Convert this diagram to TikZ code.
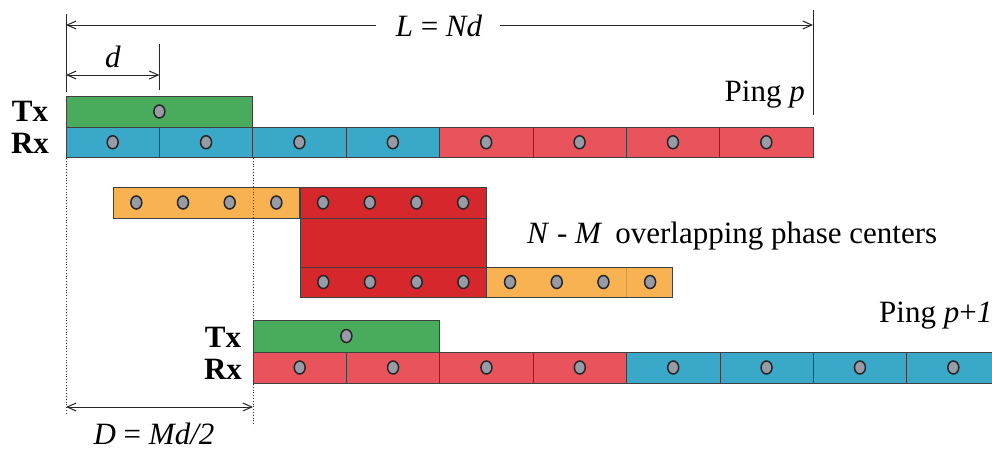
\documentclass[tikz,border=0pt]{standalone}
\usepackage{fontspec}
\setmainfont{Liberation Serif}
\usetikzlibrary{arrows.meta,shapes.geometric}
\definecolor{greenC}{RGB}{72,172,92}
\definecolor{blueC}{RGB}{58,169,201}
\definecolor{redC}{RGB}{233,84,92}
\definecolor{orangeC}{RGB}{249,178,82}
\definecolor{dredC}{RGB}{214,40,44}
\definecolor{dotC}{RGB}{150,155,165}
\tikzset{
  cellbox/.style={draw=black!75, line width=0.6pt, inner sep=0pt, outer sep=0pt, anchor=north west, minimum height=#1},
  cellbox/.default=30.5pt,
  pdot/.style={ellipse, draw=black!85, fill=dotC, line width=1.5pt, minimum width=11pt, minimum height=13pt, inner sep=0pt},
  dimline/.style={line width=1pt, black!85},
  dimarr/.style={dimline, {Straight Barb[length=9pt,width=8pt]}-{Straight Barb[length=9pt,width=8pt]}},
  vdot/.style={line width=0.8pt, black!80, dotted},
  lbl/.style={font=\fontsize{31}{34}\selectfont, inner sep=1pt},
  txrx/.style={font=\fontsize{31}{34}\selectfont\bfseries, inner sep=1pt}
}
\begin{document}
\begin{tikzpicture}[x=1pt,y=-1pt]
\clip (0,0) rectangle (992,451);
\fill[white] (0,0) rectangle (992,451);
\def\w{93.375}
\def\h{46.6875}
% ---- Ping p ----
\node[cellbox=31pt, fill=greenC, minimum width=186.75pt] (ptx) at (66,96) {};
\foreach \i in {0,...,7}{
  \pgfmathsetmacro{\xx}{66+\i*\w}
  \ifnum\i<4 \def\cc{blueC}\else\def\cc{redC}\fi
  \node[cellbox, fill=\cc, minimum width=\w pt] (prx\i) at (\xx,127) {};
  \node[pdot] (pd\i) at (prx\i.center) {};
}
\node[pdot] (ptxd) at (ptx.center) {};
\node[txrx] (tx1) at (30,111) {Tx};
\node[txrx] (rx1) at (30,143) {Rx};
\node[lbl, anchor=base east] (pingp) at (806,101) {Ping \textit{p}};
% ---- overlap rows ----
\node[cellbox=31pt, fill=orangeC, minimum width=186.75pt] (o1) at (113,187) {};
\node[cellbox=31pt, fill=dredC, minimum width=186.75pt] (r1) at (300,187) {};
\node[cellbox=49pt, fill=dredC, minimum width=186.75pt] (rm) at (300,218) {};
\node[cellbox=30pt, fill=dredC, minimum width=186.75pt] (r2) at (300,267) {};
\node[cellbox=30pt, fill=orangeC, minimum width=186.75pt] (o2) at (486,267) {};
\draw[orangeC!85!black, line width=0.4pt] (626,267.5) -- (626,296.5);
\foreach \k in {0,...,7}{
  \node[pdot] (ua\k) at (136.3+\k*\h,202.5) {};
  \node[pdot] (ub\k) at (323.3+\k*\h,282) {};
}
\node[lbl, anchor=base west] (nm) at (526,243) {\textit{N} - \textit{M}\, overlapping phase centers};
% ---- Ping p+1 ----
\node[cellbox=32pt, fill=greenC, minimum width=186.75pt] (qtx) at (253,320) {};
\foreach \i in {0,...,7}{
  \pgfmathsetmacro{\xx}{253+\i*\w}
  \ifnum\i<4 \def\cc{redC}\else\def\cc{blueC}\fi
  \node[cellbox=31pt, fill=\cc, minimum width=\w pt] (qrx\i) at (\xx,352) {};
  \node[pdot] (qd\i) at (qrx\i.center) {};
}
\node[pdot] (qtxd) at (qtx.center) {};
\node[txrx] (tx2) at (223,337) {Tx};
\node[txrx] (rx2) at (223,369) {Rx};
\node[lbl, anchor=base west] (pingq) at (878,322) {Ping \textit{p}+\textit{1}};
% ---- dimensions ----
\coordinate (a0) at (66,14);
\coordinate (a1) at (66,92);
\coordinate (b0) at (159.4,44);
\coordinate (b1) at (159.4,90);
\coordinate (c0) at (813,10);
\coordinate (c1) at (813,115);
\draw[dimline] (a0) -- (a1);
\draw[dimline] (b0) -- (b1);
\draw[dimline] (c0) -- (c1);
\node[lbl] (L) at (439,26) {\textit{L} = \textit{Nd}};
\coordinate (Ll) at (66,25);
\coordinate (Lr) at (813,25);
\draw[dimline, {Straight Barb[length=9pt,width=8pt]}-] (Ll) -- (376,25);
\draw[dimline, -{Straight Barb[length=9pt,width=8pt]}] (500,25) -- (Lr);
\coordinate (dl) at (66,75);
\coordinate (dr) at (159.4,75);
\draw[dimarr] (dl) -- (dr);
\node[lbl] (dlab) at (113,57) {\textit{d}};
% dotted guides
\coordinate (g0) at (66,158);
\coordinate (g1) at (66,414);
\coordinate (h0) at (253,158);
\coordinate (h1) at (253,320);
\coordinate (h2) at (253,384);
\coordinate (h3) at (253,426);
\draw[vdot] (g0) -- (g1);
\draw[vdot] (h0) -- (h1);
\draw[vdot] (h2) -- (h3);
\coordinate (Dl) at (66,407);
\coordinate (Dr) at (253,407);
\draw[dimarr] (Dl) -- (Dr);
\node[lbl] (Dlab) at (154,434) {\textit{D} = \textit{Md/2}};
\end{tikzpicture}
\end{document}
